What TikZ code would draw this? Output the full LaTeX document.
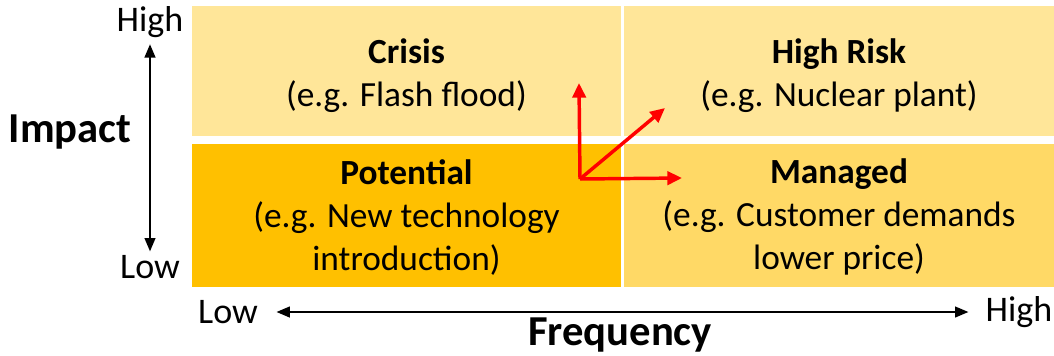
\documentclass[tikz,border=0pt]{standalone}
\usepackage{fontspec}
\setmainfont{Carlito}
\usepackage{xcolor}
\usetikzlibrary{arrows.meta}

\definecolor{lightgold}{RGB}{255,230,153}
\definecolor{darkgold}{RGB}{255,192,0}
\definecolor{midgold}{RGB}{255,217,102}

\tikzset{
  quad/.style={rectangle, inner sep=0pt, minimum width=321.75pt, minimum height=97.5pt},
  quadtext/.style={inner sep=0pt, align=center, yshift=-3.5pt, font=\fontsize{26.5}{32.2}\selectfont},
  axislabel/.style={inner sep=0.75pt, font=\fontsize{27}{30}\selectfont},
  axistitle/.style={inner sep=0.75pt, font=\fontsize{32}{36}\selectfont\bfseries},
  axisarrow/.style={line width=1.5, {Triangle[length=10pt,width=8pt]}-{Triangle[length=10pt,width=8pt]}},
  redarrow/.style={draw=red, line width=2.6, -{Triangle[length=11pt,width=10pt]}}
}

\begin{document}
\begin{tikzpicture}[x=0.75pt,y=0.75pt,yscale=-1,xscale=1]
        \useasboundingbox (0,0) rectangle (1054,355);

        %Shape: Rectangle [id:crisis]
        \node [quad, fill=lightgold, label={[quadtext]center:{\textbf{Crisis}\\(e.g. Flash flood)}}] (crisis) at (406.5,71) {};
        %Shape: Rectangle [id:highrisk]
        \node [quad, fill=lightgold, minimum width=322.5pt, label={[quadtext]center:{\textbf{High Risk}\\(e.g. Nuclear plant)}}] (highrisk) at (839,71) {};
        %Shape: Rectangle [id:potential]
        \node [quad, fill=darkgold, minimum height=107.25pt, label={[quadtext, yshift=2.2pt]center:{\textbf{Potential}\\(e.g. New technology\\introduction)}}] (potential) at (406.5,215.5) {};
        %Shape: Rectangle [id:managed]
        \node [quad, fill=midgold, minimum width=322.5pt, minimum height=107.25pt, label={[quadtext, yshift=2.2pt]center:{\textbf{Managed}\\(e.g. Customer demands\\lower price)}}] (managed) at (839,215.5) {};

        % Text Node
        \node [axislabel] (impHigh) at (150,22) {High};
        % Text Node
        \node [axislabel] (impLow) at (150,267) {Low};
        % Text Node
        \node [axistitle] (impact) at (70,132) {Impact};
        % Text Node
        \node [axislabel] (freqLow) at (228,312) {Low};
        % Text Node
        \node [axislabel] (freqHigh) at (1019,312) {High};
        % Text Node
        \node [axistitle] (frequency) at (620,335) {Frequency};

        %Straight Lines [id:axes]
        \draw [axisarrow, shorten <=4pt, shorten >=2pt] (impHigh.south) -- (impLow.north);
        \draw [axisarrow, shorten <=13pt, shorten >=12pt] (freqLow.east) -- (freqHigh.west);

        %Straight Lines [id:moves]
        \coordinate (origin) at (580,179);
        \coordinate (upTip) at (579,83);
        \coordinate (diagTip) at (665,108);
        \coordinate (rightTip) at (682,178);
        \draw [redarrow] (origin) -- (upTip);
        \draw [redarrow] (origin) -- (diagTip);
        \draw [redarrow] (origin) -- (rightTip);

\end{tikzpicture}
\end{document}
